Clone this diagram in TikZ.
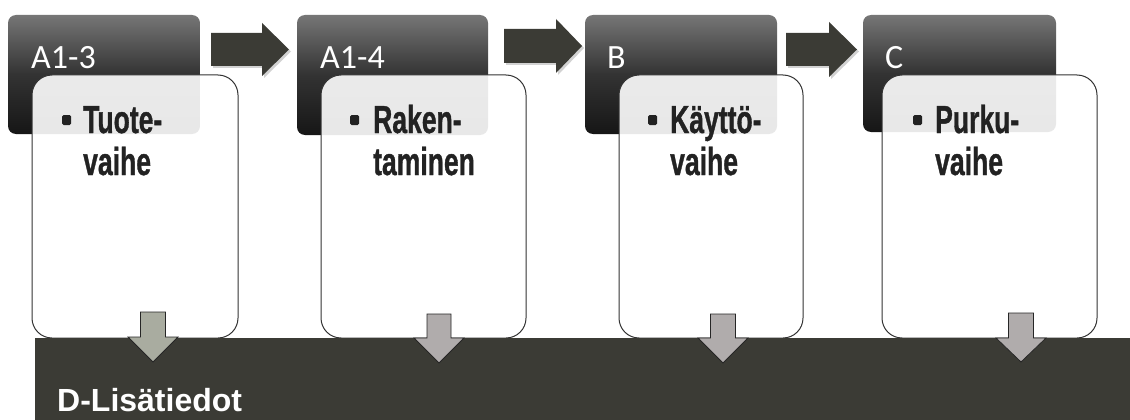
\documentclass[tikz,border=0pt]{standalone}
\usepackage{fontspec}
\setmainfont{Liberation Sans}
\newfontfamily\hdrfont{Carlito}
\newfontfamily\bodyfont{Liberation Sans}
\newfontfamily\heavyfont[BoldFeatures={FakeBold=1.2}]{Liberation Sans}
\usetikzlibrary{shadows}
\definecolor{barcol}{RGB}{59,59,53}
\definecolor{txtcol}{RGB}{34,34,34}
\definecolor{darrA}{RGB}{169,172,160}
\definecolor{darrB}{RGB}{176,172,172}
\definecolor{hdrtop}{RGB}{118,118,118}
\definecolor{hdrbot}{RGB}{22,22,22}
\tikzset{
  hdrbox/.style={rectangle, rounded corners=8pt, inner sep=0pt, outer sep=0pt, anchor=north west,
    top color=hdrtop, bottom color=hdrbot, middle color=hdrbot!70!hdrtop, draw=none},
  hdrlabel/.style={anchor=base west, inner sep=0pt, text=white, font=\hdrfont\fontsize{34}{40}\selectfont},
  whitebox/.style={rectangle, rounded corners=20pt, inner sep=0pt, outer sep=0pt, anchor=north west,
    fill=white, fill opacity=0.9, draw=black!80, line width=1pt},
  bullettext/.style={anchor=base west, inner sep=0pt, text=txtcol, font=\heavyfont\bfseries\fontsize{39}{42}\selectfont},
  rarr/.style={fill=barcol, draw=none, drop shadow={opacity=0.35, shadow xshift=2pt, shadow yshift=-2pt}},
  darr/.style={draw=black!85, line width=0.8pt, line join=miter},
}
\newcommand{\cond}[1]{\scalebox{0.68}[1]{#1}}
\begin{document}
\begin{tikzpicture}[x=1pt,y=-1pt]
\useasboundingbox (0,0) rectangle (1130,420);
\fill[white] (0,0) rectangle (1130,420);

% header boxes
\node[hdrbox, minimum width=192pt, minimum height=119pt] (h1) at (8,15) {};
\node[hdrbox, minimum width=191pt, minimum height=120pt] (h2) at (297,15) {};
\node[hdrbox, minimum width=192pt, minimum height=119pt] (h3) at (585,15) {};
\node[hdrbox, minimum width=193pt, minimum height=117pt] (h4) at (863,15) {};

\node[hdrlabel] (l1) at (31,69) {A1-3};
\node[hdrlabel] (l2) at (320,69) {A1-4};
\node[hdrlabel] (l3) at (607,69) {B};
\node[hdrlabel] (l4) at (885,69) {C};

% right arrows
\coordinate (r1) at (211,49.5);
\coordinate (r2) at (504,46);
\coordinate (r3) at (786,49.5);
\fill[rarr] (r1) +(0,-16.5) -- +(51,-16.5) -- +(51,-26.5) -- +(78,0) -- +(51,26.5) -- +(51,16.5) -- +(0,16.5) -- cycle;
\fill[rarr] (r2) +(0,-17) -- +(52,-17) -- +(52,-27) -- +(78,0) -- +(52,27) -- +(52,17) -- +(0,17) -- cycle;
\fill[rarr] (r3) +(0,-16.5) -- +(43,-16.5) -- +(43,-27.5) -- +(71,0) -- +(43,27.5) -- +(43,16.5) -- +(0,16.5) -- cycle;

% white boxes
\node[whitebox, minimum width=206pt, minimum height=263pt] (w1) at (32,75) {};
\node[whitebox, minimum width=205pt, minimum height=263pt] (w2) at (321,75) {};
\node[whitebox, minimum width=184pt, minimum height=263pt] (w3) at (619,75) {};
\node[whitebox, minimum width=215pt, minimum height=263pt] (w4) at (882,75) {};

% bullets
\fill[txtcol, rounded corners=1.5pt] (62,115) rectangle (71,125);
\fill[txtcol, rounded corners=1.5pt] (350,115) rectangle (359,125);
\fill[txtcol, rounded corners=1.5pt] (648,115) rectangle (657,125);
\fill[txtcol, rounded corners=1.5pt] (913,115) rectangle (922,125);

\node[bullettext] (t1a) at (83,133) {\cond{Tuote-}};
\node[bullettext] (t1b) at (83,175) {\cond{vaihe}};
\node[bullettext] (t2a) at (373,133) {\cond{Raken-}};
\node[bullettext] (t2b) at (373,175) {\cond{taminen}};
\node[bullettext] (t3a) at (670,133) {\cond{Käyttö-}};
\node[bullettext] (t3b) at (670,175) {\cond{vaihe}};
\node[bullettext] (t4a) at (935,133) {\cond{Purku-}};
\node[bullettext] (t4b) at (935,175) {\cond{vaihe}};

% bottom bar
\node[rectangle, fill=barcol, inner sep=0pt, outer sep=0pt, anchor=north west,
  minimum width=1095pt, minimum height=82pt] (bar) at (35,338) {};
\node[anchor=base west, inner sep=0pt, text=white, font=\bodyfont\bfseries\fontsize{32}{38}\selectfont] (dl) at (57,411) {D-Lisätiedot};

% down arrows
\coordinate (d1) at (153,312);
\coordinate (d2) at (439,314);
\coordinate (d3) at (723,314);
\coordinate (d4) at (1021,313);
\draw[darr, fill=darrA] (d1) +(-12.5,0) -- +(12.5,0) -- +(12.5,25) -- +(25,25) -- +(0,50) -- +(-25,25) -- +(-12.5,25) -- cycle;
\draw[darr, fill=darrB] (d2) +(-12,0) -- +(12,0) -- +(12,24) -- +(25,24) -- +(0,49) -- +(-25,24) -- +(-12,24) -- cycle;
\draw[darr, fill=darrB] (d3) +(-12.5,0) -- +(12.5,0) -- +(12.5,24) -- +(25,24) -- +(0,49) -- +(-25,24) -- +(-12.5,24) -- cycle;
\draw[darr, fill=darrB] (d4) +(-12.5,0) -- +(12.5,0) -- +(12.5,25) -- +(25,25) -- +(0,49) -- +(-25,25) -- +(-12.5,25) -- cycle;
\end{tikzpicture}
\end{document}
